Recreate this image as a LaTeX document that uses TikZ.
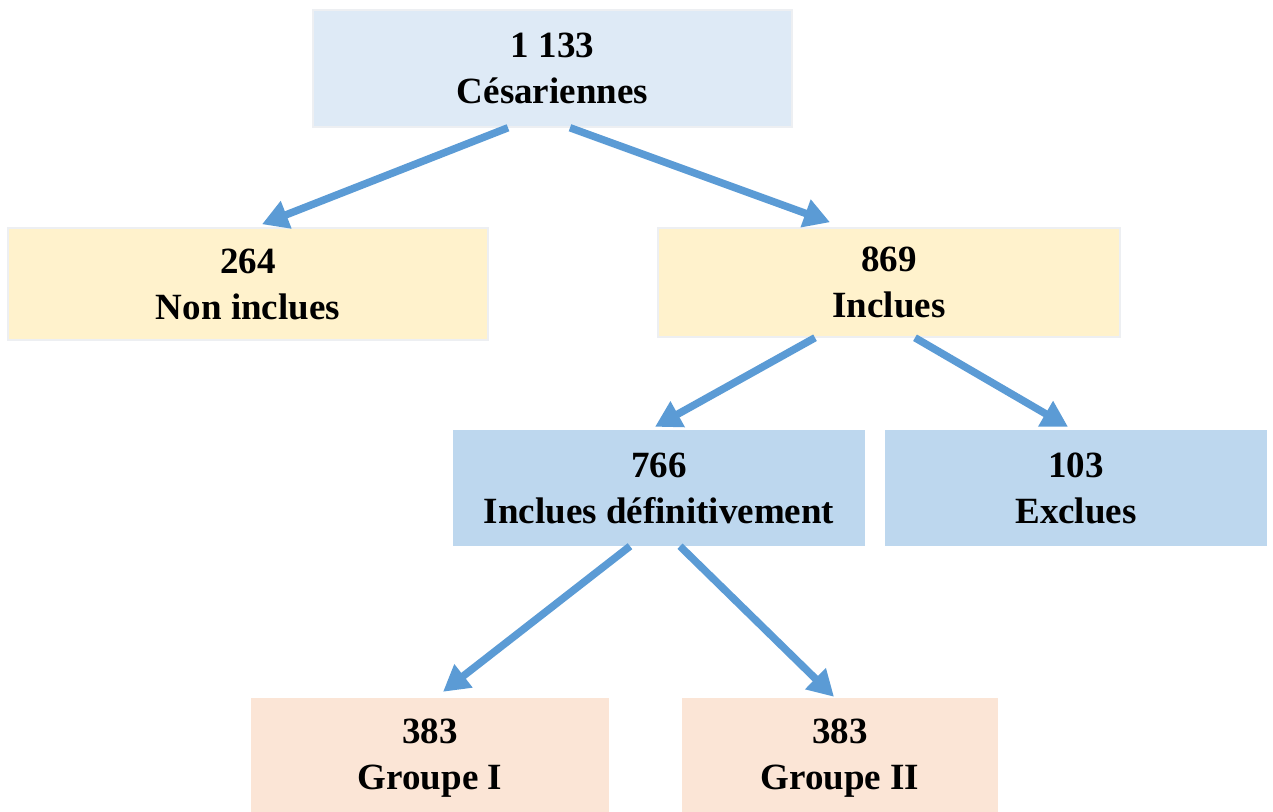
\documentclass[tikz,border=0pt]{standalone}
\usepackage{fontspec}
\setmainfont{Liberation Serif}
\usetikzlibrary{arrows.meta}
\definecolor{topblue}{HTML}{DEEAF6}
\definecolor{midblue}{HTML}{BDD7EE}
\definecolor{yel}{HTML}{FFF2CC}
\definecolor{peach}{HTML}{FBE5D6}
\definecolor{arr}{HTML}{5B9BD5}
\definecolor{edge}{HTML}{EDEFF2}
\tikzset{
  box/.style={inner sep=0pt, align=center, font=\fontsize{37}{46}\selectfont\bfseries, text=black},
  conn/.style={draw=arr, line width=7.5pt, -{Triangle[length=26pt,width=28pt]}}
}
\begin{document}
\begin{tikzpicture}[x=1pt,y=-1pt]
\useasboundingbox (0,0) rectangle (1273,811);
\node[box, fill=topblue, draw=edge, line width=1.5pt, minimum width=479pt, minimum height=117pt] (top) at (552.5,68.5) {1 133\\Césariennes};
\node[box, fill=yel, draw=edge, line width=1.5pt, minimum width=480pt, minimum height=112pt] (non) at (248,284) {264\\Non inclues};
\node[box, fill=yel, draw=edge, line width=1.5pt, minimum width=462pt, minimum height=109pt] (inc) at (889,282.5) {869\\Inclues};
\node[box, fill=midblue, minimum width=412pt, minimum height=116pt] (def) at (659,488) {766\\Inclues définitivement};
\node[box, fill=midblue, minimum width=382pt, minimum height=116pt] (exc) at (1076,488) {103\\Exclues};
\node[box, fill=peach, minimum width=358pt, minimum height=121pt] (g1) at (430,758.5) {383\\Groupe I};
\node[box, fill=peach, minimum width=316pt, minimum height=121pt] (g2) at (840,758.5) {383\\Groupe II};
\draw[conn] ([xshift=-44.5pt]top.south) -- ([xshift=14pt,yshift=3pt]non.north);
\draw[conn] ([xshift=17.5pt]top.south) -- ([xshift=-59pt,yshift=5pt]inc.north);
\draw[conn] ([xshift=-74pt]inc.south) -- ([xshift=-4pt,yshift=3pt]def.north);
\draw[conn] ([xshift=26pt]inc.south) -- ([xshift=-8pt,yshift=3pt]exc.north);
\draw[conn] ([xshift=-29pt]def.south) -- ([xshift=13pt,yshift=6pt]g1.north);
\draw[conn] ([xshift=21pt]def.south) -- ([xshift=-6pt,yshift=1pt]g2.north);
\end{tikzpicture}
\end{document}
